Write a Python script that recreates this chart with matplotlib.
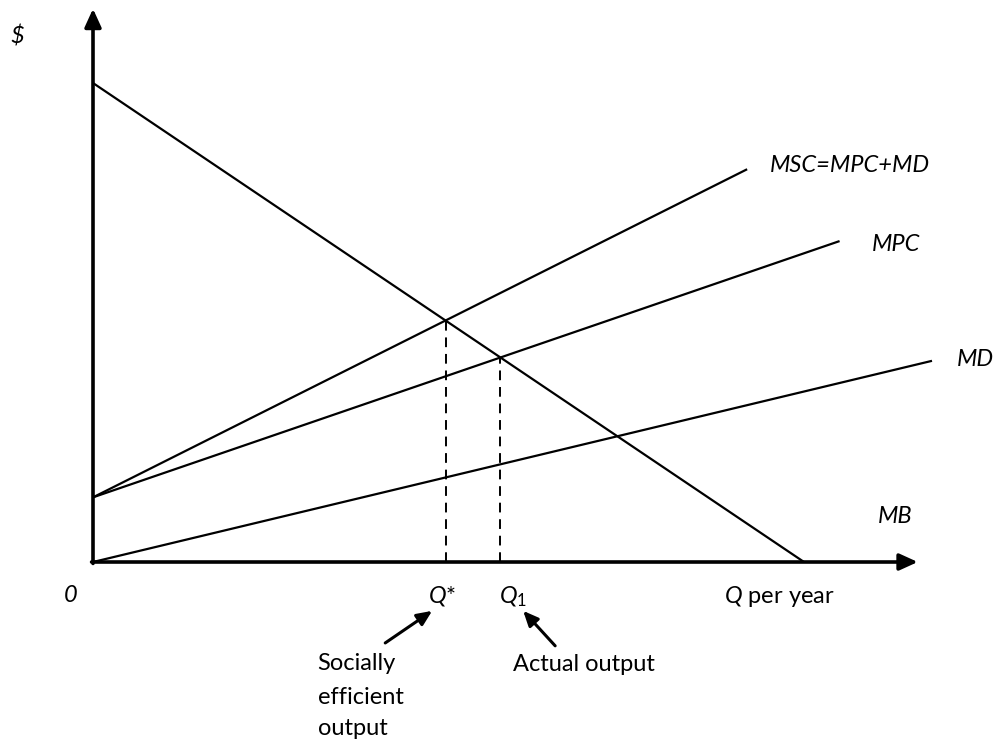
import numpy as np
import matplotlib
matplotlib.use('Agg')
import matplotlib.pyplot as plt

plt.rcParams['font.family'] = ['Lato', 'DejaVu Sans']
plt.rcParams['mathtext.fontset'] = 'custom'
plt.rcParams['mathtext.it'] = 'Lato:italic'
plt.rcParams['mathtext.rm'] = 'Lato'

# curve end points (Q, $)
mb_q = [0, 10.0]
mb_p = [10.0, 0]
msc_q = [0, 9.2]
msc_p = [1.35, 8.2]
mpc_q = [0, 10.5]
mpc_p = [1.35, 6.7]
md_q = [0, 11.8]
md_p = [0, 4.2]

curve_labels = ['MSC=MPC+MD', 'MPC', 'MD', 'MB']
label_pos = [(9.52, 8.28), (10.96, 6.62), (12.15, 4.22), (11.04, 0.95)]


def line_cross(q1, p1, q2, p2):
    a1 = (p1[1] - p1[0]) / (q1[1] - q1[0])
    a2 = (p2[1] - p2[0]) / (q2[1] - q2[0])
    q = (p2[0] - p1[0]) / (a1 - a2)
    return q, p1[0] + a1 * q


fs = 17

fig = plt.figure(figsize=(9.95, 7.4), dpi=100)
ax = fig.add_axes([0, 0, 1, 1])
ax.set_xlim(-1.308, 12.686)
ax.set_ylim(-3.716, 11.733)
ax.axis('off')

# axes with arrows
ax.annotate('', xy=(0, 11.55), xytext=(0, -0.03),
            arrowprops=dict(arrowstyle='-|>,head_length=1.1,head_width=0.5', lw=2.6, color='black',
                            shrinkA=0, shrinkB=0))
ax.annotate('', xy=(11.6, 0), xytext=(-0.02, 0),
            arrowprops=dict(arrowstyle='-|>,head_length=1.1,head_width=0.5', lw=2.6, color='black',
                            shrinkA=0, shrinkB=0))

for q, p in [(mb_q, mb_p), (msc_q, msc_p), (mpc_q, mpc_p), (md_q, md_p)]:
    ax.plot(q, p, color='black', lw=1.6, solid_capstyle='butt')

q_star, p_star = line_cross(mb_q, mb_p, msc_q, msc_p)
q_one, p_one = line_cross(mb_q, mb_p, mpc_q, mpc_p)
for q, p in [(q_star, p_star), (q_one, p_one)]:
    ax.plot([q, q], [0, p], color='black', lw=1.4, linestyle=(0, (5, 3.5)))

for txt, (x, y) in zip(curve_labels, label_pos):
    ax.text(x, y, txt, fontsize=fs, style='italic', ha='left', va='center')

ax.text(-1.07, 10.98, '$', fontsize=fs, style='italic', ha='center', va='center')
ax.text(-0.32, -0.69, '0', fontsize=fs, style='italic', ha='center', va='center')
ax.text(4.71, -0.72, r'$Q$*', fontsize=fs, ha='left', va='center')
ax.text(5.71, -0.72, r'$Q_{\mathrm{1}}$', fontsize=fs, ha='left', va='center')
ax.text(8.87, -0.72, r'$Q$ per year', fontsize=fs, ha='left', va='center')

for y, t in zip([-2.11, -2.82, -3.47], ['Socially', 'efficient', 'output']):
    ax.text(3.16, y, t, fontsize=fs, ha='left', va='center')
ax.text(5.91, -2.15, 'Actual output', fontsize=fs, ha='left', va='center')

ax.annotate('', xy=(4.77, -1.02), xytext=(4.11, -1.69),
            arrowprops=dict(arrowstyle='-|>,head_length=0.9,head_width=0.4', lw=2.2, color='black',
                            shrinkA=0, shrinkB=0))
ax.annotate('', xy=(6.05, -1.02), xytext=(6.50, -1.75),
            arrowprops=dict(arrowstyle='-|>,head_length=0.9,head_width=0.4', lw=2.2, color='black',
                            shrinkA=0, shrinkB=0))

fig.savefig('out.png', dpi=100)
